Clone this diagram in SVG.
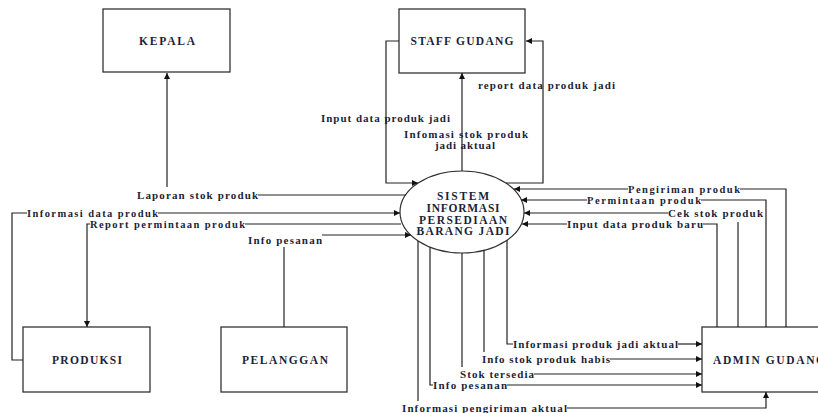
<svg xmlns="http://www.w3.org/2000/svg" width="818" height="413" viewBox="0 0 818 413">
  <style>
    .box { fill: #fff; stroke: #333; stroke-width: 1.3; }
    .ent { font-family: "Liberation Serif", "Times New Roman", serif; font-weight: bold; font-size: 11.5px; fill: #1c1f3a; text-anchor: middle; }
    .lbl { font-family: "Liberation Serif", "Times New Roman", serif; font-weight: bold; font-size: 11px; fill: #1c1f3a; }
    .tight { font-size: 10.5px; }
    .flow { fill: none; stroke: #222; stroke-width: 1.2; }
    .arr { marker-end: url(#head); }
  </style>
  <defs>
    <marker id="head" viewBox="0 0 10 10" refX="10" refY="5" markerWidth="7" markerHeight="6" markerUnits="userSpaceOnUse" orient="auto">
      <path d="M0,0 L10,5 L0,10 z" fill="#111"/>
    </marker>
  </defs>
  <rect width="818" height="413" fill="#fff"/>

  <!-- external entities -->
  <g id="kepala">
    <rect class="box" x="103" y="9" width="127" height="63"/>
    <text class="ent" x="167" y="45" textLength="56">KEPALA</text>
  </g>
  <g id="staff-gudang">
    <rect class="box" x="399" y="9" width="126" height="64"/>
    <text class="ent" x="462" y="45" textLength="103">STAFF GUDANG</text>
  </g>
  <g id="produksi">
    <rect class="box" x="23" y="327" width="127" height="65"/>
    <text class="ent" x="87" y="364" textLength="70">PRODUKSI</text>
  </g>
  <g id="pelanggan">
    <rect class="box" x="221" y="327" width="126" height="65"/>
    <text class="ent" x="285" y="364" textLength="86">PELANGGAN</text>
  </g>
  <g id="admin-gudang">
    <rect class="box" x="702" y="327" width="127" height="65"/>
    <text class="ent" x="713" y="364" style="text-anchor:start" textLength="112">ADMIN GUDANG</text>
  </g>

  <!-- process -->
  <g id="sistem">
    <ellipse cx="462" cy="212" rx="62" ry="41" fill="#fff" stroke="#333" stroke-width="1.2"/>
    <text class="ent" x="463" y="200" textLength="52">SISTEM</text>
    <text class="ent" x="463" y="212" textLength="73">INFORMASI</text>
    <text class="ent" x="463" y="224" textLength="88">PERSEDIAAN</text>
    <text class="ent" x="463" y="235" textLength="93">BARANG JADI</text>
  </g>

  <!-- data flows -->
  <g id="connectors">
    <path class="flow" d="M258,195 H406"/>
    <path class="flow arr" d="M167,187 V73"/>
    <path class="flow arr" d="M399,41 H386 V183 H418"/>
    <path class="flow arr" d="M462,171 V73"/>
    <path class="flow arr" d="M506,183 H543 V41 H526"/>
    <path class="flow" d="M23,360 H12 V213 H27"/>
    <path class="flow arr" d="M158,213 H400"/>
    <path class="flow" d="M245,224 H401"/>
    <path class="flow arr" d="M90,224 H87 V327"/>
    <path class="flow" d="M284,327 V247"/>
    <path class="flow arr" d="M322,235 H411"/>
    <path class="flow" d="M786,327 V189 H740"/>
    <path class="flow arr" d="M628,189 H514"/>
    <path class="flow" d="M766,327 V200 H701"/>
    <path class="flow arr" d="M587,200 H521"/>
    <path class="flow" d="M738,327 V222"/>
    <path class="flow arr" d="M668,213 H524"/>
    <path class="flow" d="M717,327 V224 H703"/>
    <path class="flow arr" d="M567,224 H522"/>
    <path class="flow" d="M507,240 V344 H513"/>
    <path class="flow arr" d="M678,344 H702"/>
    <path class="flow" d="M484,250 V352"/>
    <path class="flow arr" d="M610,359 H702"/>
    <path class="flow" d="M462,253 V367"/>
    <path class="flow arr" d="M534,374 H702"/>
    <path class="flow" d="M430,247 V385 H433"/>
    <path class="flow arr" d="M507,385 H702"/>
    <path class="flow" d="M418,241 V401"/>
    <path class="flow arr" d="M567,408 H766 V392"/>
  </g>

  <!-- flow labels -->
  <g id="labels">
    <text class="lbl" x="137" y="199" textLength="121">Laporan stok produk</text>
    <text class="lbl" x="321" y="122" textLength="129">Input data produk jadi</text>
    <text class="lbl" x="404" y="138" textLength="124">Infomasi stok produk</text>
    <text class="lbl" x="435" y="149" textLength="60">jadi aktual</text>
    <text class="lbl" x="478" y="89" textLength="137">report data produk jadi</text>
    <text class="lbl tight" x="27" y="216.5" textLength="131">Informasi data produk</text>
    <text class="lbl tight" x="90" y="227.5" textLength="155">Report permintaan produk</text>
    <text class="lbl" x="248" y="244" textLength="74">Info pesanan</text>
    <text class="lbl tight" x="628" y="192.5" textLength="112">Pengiriman produk</text>
    <text class="lbl tight" x="587" y="203.5" textLength="114">Permintaan produk</text>
    <text class="lbl" x="668" y="217" textLength="95">Cek stok produk</text>
    <text class="lbl" x="567" y="228" textLength="136">Input data produk baru</text>
    <text class="lbl" x="513" y="348" textLength="165">Informasi produk jadi aktual</text>
    <text class="lbl" x="482" y="363" textLength="128">Info stok produk habis</text>
    <text class="lbl" x="460" y="378" textLength="74">Stok tersedia</text>
    <text class="lbl" x="433" y="389" textLength="74">Info pesanan</text>
    <text class="lbl" x="402" y="412" textLength="165">Informasi pengiriman aktual</text>
  </g>
</svg>
